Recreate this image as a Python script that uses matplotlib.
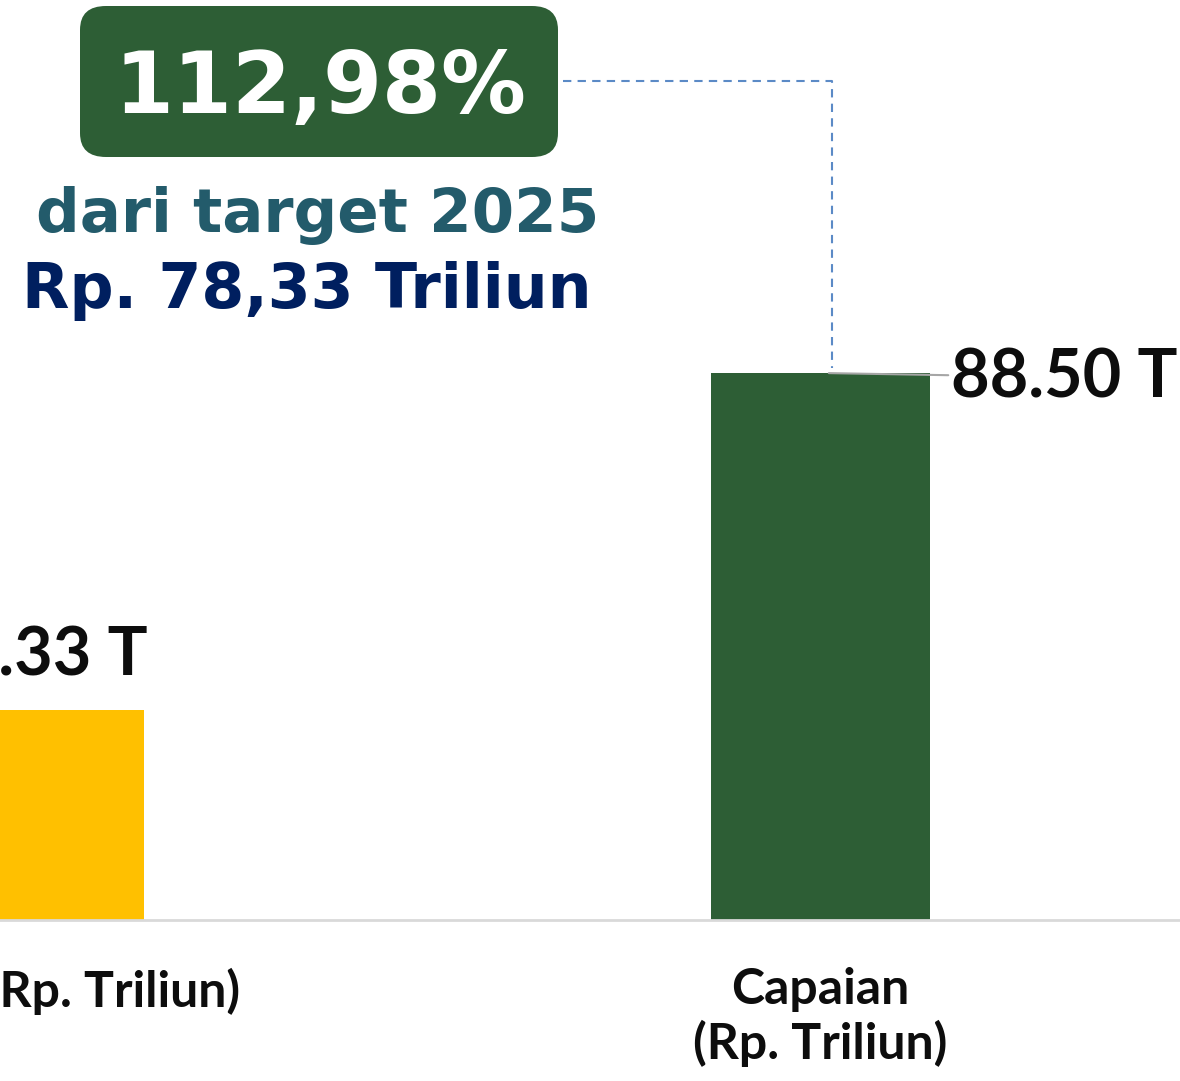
import matplotlib
matplotlib.use("Agg")
import matplotlib.pyplot as plt
from matplotlib.patches import FancyBboxPatch
from matplotlib.lines import Line2D

# data
categories = ["Target (Rp. Triliun)", "Capaian\n(Rp. Triliun)"]
values = [78.33, 88.50]
value_labels = ["78.33 T", "88.50 T"]
bar_colors = ["#FFC000", "#2D5E35"]
pct_text = "112,98%"
sub_line1 = "dari target 2025"
sub_line2 = "Rp. 78,33 Triliun"

W, H = 1180, 1081
fig = plt.figure(figsize=(W / 100, H / 100), dpi=100)

def fx(px):
    return px / W

def fy(py):
    return 1 - py / H

# axes spans whole width, baseline at y=920px
ax = fig.add_axes([0, fy(920), 1, 920 / H])
ax.bar(range(len(values)), values, width=0.2786, color=bar_colors, bottom=0)
ax.set_ylim(72, 99.75)
ax.set_xlim(-0.0439, 1.4574)
for s in ["top", "left", "right"]:
    ax.spines[s].set_visible(False)
ax.spines["bottom"].set_color("#D9D9D9")
ax.spines["bottom"].set_linewidth(2)
ax.set_yticks([])
ax.set_xticks(range(len(categories)))
ax.set_xticklabels(categories, fontsize=36, fontweight="bold", family="Lato",
                   color="#0D0D0D", linespacing=1.2)
ax.tick_params(axis="x", length=0, pad=34)

# value labels
ax.annotate(value_labels[0], xy=(0, values[0]), xytext=(0, 16), textcoords="offset points",
            ha="center", va="bottom", fontsize=48, fontweight="bold", family="Lato",
            color="#0D0D0D")
ax.annotate(value_labels[1], xy=(1, values[1]), xytext=(94, 0), textcoords="offset points",
            ha="left", va="center_baseline", fontsize=48, fontweight="bold", family="Lato",
            color="#0D0D0D",
            arrowprops=dict(arrowstyle="-", color="#A6A6A6", lw=1.5, shrinkA=0, shrinkB=6,
                            relpos=(0, 0.56)))

# header box
box = FancyBboxPatch((fx(80), fy(157)), fx(558) - fx(80), fy(6) - fy(157),
                     boxstyle="round,pad=0,rounding_size=0.022",
                     transform=fig.transFigure, facecolor="#2D5E35", edgecolor="none")
fig.add_artist(box)
fig.text(fx(320), fy(113), pct_text, ha="center", va="baseline", fontsize=61,
         fontweight="bold", color="white", family="DejaVu Sans")
fig.text(fx(318), fy(232), sub_line1, ha="center", va="baseline", fontsize=44,
         fontweight="bold", color="#235B6B", family="DejaVu Sans")
fig.text(fx(307), fy(308), sub_line2, ha="center", va="baseline", fontsize=44.5,
         fontweight="bold", color="#001F5F", family="DejaVu Sans")

# dashed connector
fig.add_artist(Line2D([fx(563), fx(832), fx(832)], [fy(81), fy(81), fy(368)],
                      transform=fig.transFigure, color="#5B8AC6", lw=1.5,
                      linestyle=(0, (4, 3))))

fig.savefig("out.png", dpi=100)
